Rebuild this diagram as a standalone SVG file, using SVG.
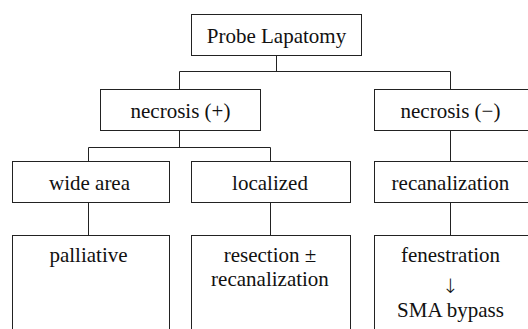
<svg xmlns="http://www.w3.org/2000/svg" width="528" height="329" viewBox="0 0 528 329">
<style>
rect{fill:#fff;stroke:#222;stroke-width:1}
.c line{stroke:#222;stroke-width:1}
text{font-family:'Liberation Serif',serif;font-size:21px;fill:#111;text-anchor:middle}
.arr{font-family:'DejaVu Sans',sans-serif;font-weight:200;font-size:20px}
</style>
<rect x="0" y="0" width="528" height="329" style="stroke:none"/>
<g class="c" id="connectors">
<line x1="276.5" y1="55.5" x2="276.5" y2="71.5"/>
<line x1="179.5" y1="71.5" x2="450.5" y2="71.5"/>
<line x1="179.5" y1="71.5" x2="179.5" y2="89.5"/>
<line x1="450.5" y1="71.5" x2="450.5" y2="89.5"/>
<line x1="179.5" y1="130.5" x2="179.5" y2="147.5"/>
<line x1="88.5" y1="147.5" x2="270.5" y2="147.5"/>
<line x1="88.5" y1="147.5" x2="88.5" y2="161.5"/>
<line x1="270.5" y1="147.5" x2="270.5" y2="161.5"/>
<line x1="450.5" y1="130.5" x2="450.5" y2="161.5"/>
<line x1="88.5" y1="202.5" x2="88.5" y2="235.5"/>
<line x1="270.5" y1="202.5" x2="270.5" y2="235.5"/>
<line x1="450.5" y1="202.5" x2="450.5" y2="235.5"/>
</g>
<g id="probe"><rect x="191.5" y="14.5" width="170" height="41"/><text x="276.5" y="43">Probe Lapatomy</text></g>
<g id="necpos"><rect x="100.5" y="89.5" width="160" height="41"/><text x="180.5" y="118">necrosis (+)</text></g>
<g id="necneg"><rect x="374.5" y="89.5" width="160" height="41"/><text x="450.5" y="118">necrosis (−)</text></g>
<g id="wide"><rect x="12.5" y="161.5" width="157" height="41"/><text x="89.5" y="189.5">wide area</text></g>
<g id="localized"><rect x="191.5" y="161.5" width="159" height="41"/><text x="270" y="189.5">localized</text></g>
<g id="recan"><rect x="374.5" y="161.5" width="160" height="41"/><text x="450.5" y="189.5">recanalization</text></g>
<g id="palliative"><rect x="12.5" y="235.5" width="157" height="110"/><text x="88.5" y="262">palliative</text></g>
<g id="resection"><rect x="191.5" y="235.5" width="159" height="110"/><text x="270" y="262">resection ±</text><text x="270" y="286">recanalization</text></g>
<g id="fenestration"><rect x="374.5" y="235.5" width="160" height="110"/><text x="450.5" y="262">fenestration</text><text class="arr" x="450.5" y="293">↓</text><text x="450.5" y="317">SMA bypass</text></g>
</svg>
